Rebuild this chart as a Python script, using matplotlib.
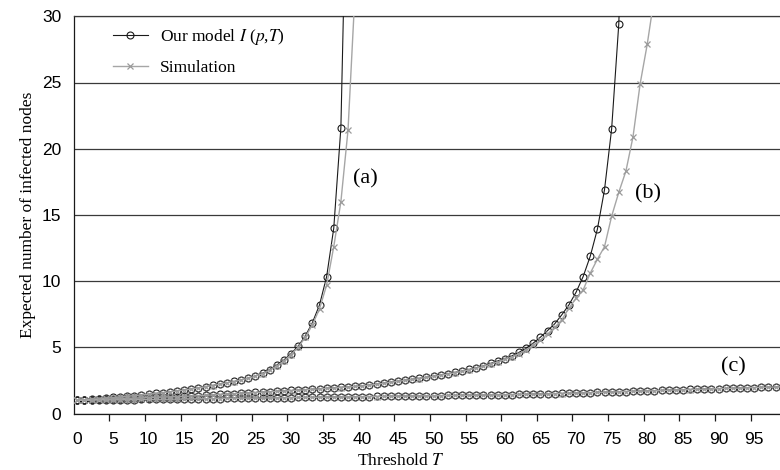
import matplotlib
matplotlib.use("Agg")
import matplotlib.pyplot as plt
import numpy as np

# ---------------- data ----------------
model_a = [1.00, 1.04, 1.08, 1.12, 1.16, 1.21, 1.25, 1.30, 1.35, 1.41,
           1.46, 1.52, 1.58, 1.64, 1.71, 1.78, 1.86, 1.94, 2.03, 2.12,
           2.22, 2.32, 2.42, 2.54, 2.68, 2.84, 3.04, 3.32, 3.66, 4.04,
           4.52, 5.08, 5.85, 6.86, 8.20, 10.34, 14.0, 21.6, 46.0]
sim_a = [1.00, 1.04, 1.08, 1.11, 1.16, 1.20, 1.25, 1.30, 1.35, 1.40,
         1.46, 1.51, 1.57, 1.64, 1.70, 1.77, 1.85, 1.93, 2.02, 2.11,
         2.21, 2.32, 2.41, 2.53, 2.66, 2.82, 3.01, 3.28, 3.60, 3.97,
         4.45, 5.00, 5.75, 6.70, 7.90, 9.70, 12.6, 16.0, 21.4, 32.0]

model_b = [1.00, 1.02, 1.04, 1.06, 1.08, 1.10, 1.12, 1.14, 1.16, 1.18,
           1.20, 1.22, 1.24, 1.26, 1.28, 1.30, 1.33, 1.35, 1.38, 1.41,
           1.44, 1.47, 1.50, 1.53, 1.56, 1.59, 1.62, 1.65, 1.68, 1.71,
           1.74, 1.77, 1.80, 1.84, 1.87, 1.91, 1.94, 1.98, 2.02, 2.05,
           2.09, 2.16, 2.23, 2.30, 2.38, 2.45, 2.52, 2.59, 2.66, 2.74,
           2.83, 2.92, 3.01, 3.11, 3.21, 3.33, 3.46, 3.61, 3.78, 3.97,
           4.15, 4.35, 4.62, 4.93, 5.32, 5.76, 6.26, 6.77, 7.45, 8.20,
           9.15, 10.34, 11.88, 13.92, 16.9, 21.5, 29.4, 45.0]
sim_b = [1.00, 1.02, 1.04, 1.06, 1.07, 1.10, 1.12, 1.14, 1.16, 1.18,
         1.20, 1.22, 1.24, 1.26, 1.28, 1.30, 1.32, 1.35, 1.38, 1.40,
         1.43, 1.46, 1.49, 1.52, 1.55, 1.58, 1.61, 1.64, 1.67, 1.70,
         1.73, 1.76, 1.79, 1.83, 1.86, 1.89, 1.93, 1.96, 2.00, 2.04,
         2.08, 2.14, 2.21, 2.28, 2.36, 2.43, 2.50, 2.57, 2.64, 2.72,
         2.80, 2.89, 2.98, 3.08, 3.18, 3.30, 3.42, 3.56, 3.72, 3.90,
         4.08, 4.27, 4.52, 4.80, 5.15, 5.55, 6.00, 6.50, 7.07, 7.95,
         8.70, 9.33, 10.6, 11.65, 12.6, 14.9, 16.7, 18.3, 20.9, 24.9,
         27.9, 31.5]

model_c = [1.00, 1.01, 1.01, 1.02, 1.03, 1.03, 1.04, 1.05, 1.05, 1.06,
           1.07, 1.07, 1.08, 1.09, 1.09, 1.10, 1.11, 1.11, 1.12, 1.13,
           1.13, 1.14, 1.15, 1.15, 1.16, 1.17, 1.17, 1.18, 1.19, 1.20,
           1.20, 1.21, 1.22, 1.22, 1.23, 1.24, 1.25, 1.25, 1.26, 1.27,
           1.27, 1.28, 1.29, 1.29, 1.30, 1.31, 1.32, 1.32, 1.33, 1.34,
           1.34, 1.35, 1.36, 1.37, 1.38, 1.38, 1.39, 1.40, 1.41, 1.42,
           1.42, 1.43, 1.44, 1.45, 1.47, 1.48, 1.49, 1.50, 1.52, 1.53,
           1.55, 1.56, 1.58, 1.60, 1.61, 1.63, 1.65, 1.66, 1.68, 1.70,
           1.72, 1.73, 1.75, 1.77, 1.78, 1.80, 1.82, 1.83, 1.85, 1.87,
           1.88, 1.90, 1.91, 1.93, 1.95, 1.96, 1.98, 1.99, 2.01, 2.03]
sim_c = [1.00, 1.00, 1.01, 1.02, 1.02, 1.03, 1.04, 1.04, 1.05, 1.06,
         1.06, 1.07, 1.08, 1.08, 1.09, 1.10, 1.10, 1.11, 1.12, 1.12,
         1.13, 1.14, 1.14, 1.15, 1.16, 1.16, 1.17, 1.18, 1.18, 1.19,
         1.20, 1.21, 1.21, 1.22, 1.23, 1.23, 1.24, 1.25, 1.26, 1.26,
         1.27, 1.28, 1.28, 1.29, 1.30, 1.31, 1.31, 1.32, 1.33, 1.34,
         1.34, 1.35, 1.36, 1.36, 1.37, 1.38, 1.39, 1.40, 1.40, 1.41,
         1.42, 1.43, 1.44, 1.45, 1.46, 1.47, 1.48, 1.50, 1.51, 1.53,
         1.54, 1.56, 1.57, 1.59, 1.61, 1.62, 1.64, 1.66, 1.67, 1.69,
         1.71, 1.72, 1.74, 1.76, 1.78, 1.79, 1.81, 1.83, 1.84, 1.86,
         1.88, 1.89, 1.91, 1.92, 1.94, 1.96, 1.97, 1.99, 2.00, 2.02]

x_ticks = list(range(0, 100, 5))
y_ticks = [0, 5, 10, 15, 20, 25, 30]
labels_curves = ["(a)", "(b)", "(c)"]

# ---------------- style ----------------
plt.rcParams['font.family'] = ['Liberation Serif', 'DejaVu Serif']
plt.rcParams['mathtext.fontset'] = 'stix'
tick_family = ['Liberation Sans', 'DejaVu Sans']

W_PX, H_PX = 780, 470
left_px, top_px, bottom_px = 73.7, 16.3, 413.5
unit_px = 7.125

fig = plt.figure(figsize=(W_PX / 100, H_PX / 100), dpi=100)
ax = fig.add_axes([left_px / W_PX, (H_PX - bottom_px) / H_PX,
                   (W_PX - left_px) / W_PX, (bottom_px - top_px) / H_PX])

model_kw = dict(color='#1a1a1a', lw=0.8, marker='o', ms=5.0, mfc='none',
                mec='#1a1a1a', mew=0.8)
sim_kw = dict(color='#a6a6a6', lw=1.0, marker='x', ms=4.0, mec='#9a9a9a',
              mew=0.9)

for i, (m, s) in enumerate([(model_a, sim_a), (model_b, sim_b), (model_c, sim_c)]):
    ax.plot(np.arange(len(m)), m, label="Our model $I$ ($p$,$T$)" if i == 0 else None,
            zorder=3, **model_kw)
    ax.plot(np.arange(len(s)), s, label="Simulation" if i == 0 else None,
            zorder=4, **sim_kw)

ax.set_xlim(-0.5, -0.5 + (W_PX - left_px) / unit_px)
ax.set_ylim(0, 30)

ax.set_yticks(y_ticks)
ax.yaxis.grid(True, color='#3a3a3a', lw=0.9)
ax.set_axisbelow(True)
ax.tick_params(axis='y', length=0, pad=9, labelsize=12.5)

ax.set_xticks(x_ticks)
ax.set_xticks([t - 0.5 for t in x_ticks[1:]], minor=True)
ax.tick_params(axis='x', which='major', length=0, pad=13, labelsize=12.5)
ax.tick_params(axis='x', which='minor', length=5, width=0.9, direction='out',
               color='#1a1a1a')
for lab in ax.get_xticklabels() + ax.get_yticklabels():
    lab.set_fontfamily(tick_family)

ax.spines['right'].set_visible(False)
ax.spines['top'].set_color('#3a3a3a')
ax.spines['top'].set_linewidth(0.9)
for sp in ['left', 'bottom']:
    ax.spines[sp].set_color('#1a1a1a')
    ax.spines[sp].set_linewidth(0.9)

# curve labels
ax.text(40.5, 17.7, labels_curves[0], fontsize=16, ha='center', va='center')
ax.text(80.1, 16.6, labels_curves[1], fontsize=16, ha='center', va='center')
ax.text(92.1, 3.5, labels_curves[2], fontsize=16, ha='center', va='center')

# legend
leg = ax.legend(loc='upper left', bbox_to_anchor=(113 / W_PX, 1 - 27 / H_PX),
                bbox_transform=fig.transFigure, frameon=False, fontsize=12.5,
                handlelength=2.0, handletextpad=0.7, labelspacing=0.72,
                borderpad=0, borderaxespad=0)

fig.text(401 / W_PX, 1 - 461 / H_PX, "Threshold $T$", fontsize=12.5,
         ha='center', va='center')
fig.text(28 / W_PX, 1 - 215 / H_PX, "Expected number of infected nodes",
         fontsize=12.5, ha='center', va='center', rotation=90)

fig.savefig('out.png', dpi=100)
